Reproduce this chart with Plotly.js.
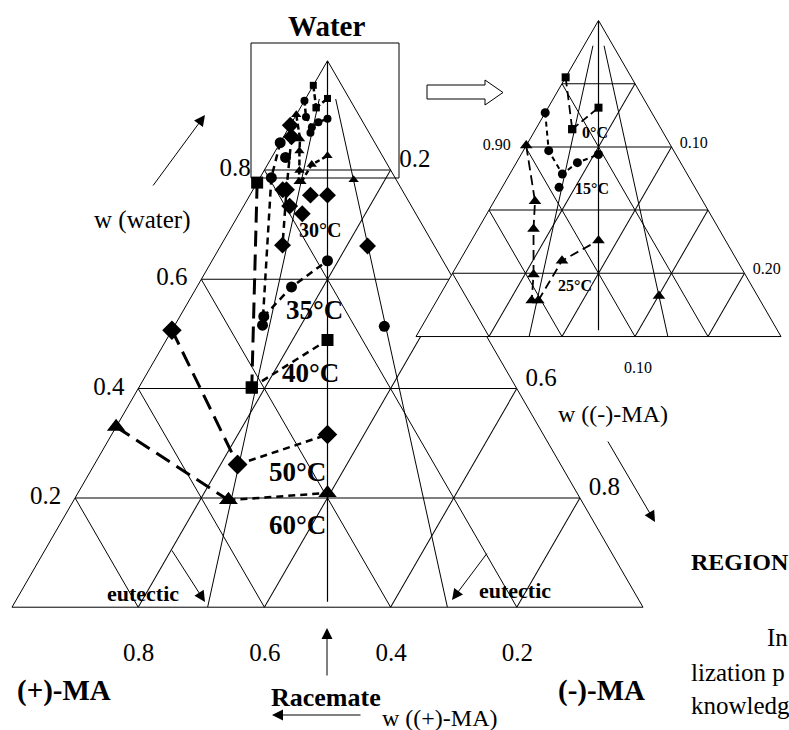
<!DOCTYPE html>
<html><head><meta charset="utf-8">
<script src="https://cdn.plot.ly/plotly-3.0.1.min.js"></script>
<style>html,body{margin:0;padding:0;background:#fff}#chart{width:789px;height:730px}</style>
</head><body><div id="chart"></div>
<script>
// ---------------- DATA: mass fractions (water, (+)-MA, (-)-MA) ----------------
// 0 °C (squares)
const t0PureWater = [0.955, 0.914];
const t0PurePlus  = [0.045, 0.061];
const t0PureMinus = [0.000, 0.025];
const t0RacWater  = [0.914, 0.931];
const t0RacPlus   = [0.061, 0.0345];
const t0RacMinus  = [0.025, 0.0345];
// 15 °C (circles)
const t15Water = [0.927, 0.897, 0.8785, 0.8875, 0.894];
const t15Plus  = [0.073, 0.0856, 0.0855, 0.0707, 0.053];
const t15Minus = [0.000, 0.0174, 0.036, 0.0418, 0.053];
const t15ExtraWater = [0.868];
const t15ExtraPlus  = [0.093];
const t15ExtraMinus = [0.039];
// 25 °C (triangles)
const t25PureWater = [0.901, 0.857, 0.835, 0.799, 0.7785];
const t25PurePlus  = [0.099, 0.115, 0.127, 0.145, 0.1565];
const t25PureMinus = [0.000, 0.028, 0.038, 0.056, 0.065];
const t25RacWater  = [0.7785, 0.810, 0.826];
const t25RacPlus   = [0.152, 0.120, 0.087];
const t25RacMinus  = [0.0695, 0.070, 0.087];
const t25ExtraWater = [0.782];
const t25ExtraPlus  = [0.0676];
const t25ExtraMinus = [0.1504];
// 30 °C (diamonds)
const t30Water = [0.882, 0.861, 0.764, 0.6625];
const t30Plus  = [0.118, 0.1265, 0.183, 0.240];
const t30Minus = [0.000, 0.0125, 0.053, 0.0975];
const t30ExtraWater = [0.764, 0.734, 0.720, 0.754, 0.754, 0.661];
const t30ExtraPlus  = [0.189, 0.193, 0.180, 0.150, 0.123, 0.106];
const t30ExtraMinus = [0.047, 0.073, 0.100, 0.096, 0.123, 0.233];
// 35 °C (circles)
const t35Water = [0.850, 0.786, 0.516, 0.532, 0.586, 0.634];
const t35Plus  = [0.150, 0.196, 0.345, 0.335, 0.264, 0.183];
const t35Minus = [0.000, 0.018, 0.139, 0.133, 0.150, 0.183];
const t35ExtraWater = [0.823, 0.514];
const t35ExtraPlus  = [0.155, 0.153];
const t35ExtraMinus = [0.022, 0.333];
// 40 °C (squares)
const t40PureWater = [0.777, 0.402];
const t40PurePlus  = [0.223, 0.419];
const t40PureMinus = [0.000, 0.179];
const t40RacWater  = [0.402, 0.489];
const t40RacPlus   = [0.419, 0.2555];
const t40RacMinus  = [0.179, 0.2555];
// 50 °C (diamonds)
const t50PureWater = [0.507, 0.261];
const t50PurePlus  = [0.493, 0.512];
const t50PureMinus = [0.000, 0.227];
const t50RacWater  = [0.261, 0.316];
const t50RacPlus   = [0.512, 0.342];
const t50RacMinus  = [0.227, 0.342];
// 60 °C (triangles)
const t60PureWater = [0.330, 0.196];
const t60PurePlus  = [0.670, 0.559];
const t60PureMinus = [0.000, 0.245];
const t60RacWater  = [0.196, 0.209];
const t60RacPlus   = [0.559, 0.3955];
const t60RacMinus  = [0.245, 0.3955];
// Guide lines: eutectic compositions and racemate
const eutMainWater  = [0.93, 0.0];
const eutMainPlusL  = [0.048, 0.69];
const eutMainMinusL = [0.022, 0.31];
const eutInsetWater  = [0.98, 0.75];
const eutInsetPlusL  = [0.0138, 0.1725];
const eutInsetMinusL = [0.0062, 0.0775];
const racMainWater = [1.0, 0.01];
const racMainHalf  = [0.0, 0.495];
const racInsetWater = [1.0, 0.755];
const racInsetHalf  = [0.0, 0.1225];
// Tick labels
const mainTicks = [0.2, 0.4, 0.6, 0.8];
const mainTickText = ['0.2', '0.4', '0.6', '0.8'];
const mainRightText = ['0.2', '', '0.6', '0.8'];
const insetATicks = [0.8, 0.85, 0.9, 0.95];
const insetATickText = ['', '', '0.90', ''];
const insetBCTicks = [0.05, 0.10, 0.15, 0.20];
const insetBText = ['', '0.10', '', ''];
const insetCText = ['', '0.10', '', '0.20'];

// ---------------- helpers ----------------
const W = 789, H = 730;
const px = x => x / W, py = y => 1 - y / H;
const SERIF = 'Liberation Serif, Times New Roman, serif';
const NB = '\u00a0';
// trailing no-break spaces centre the angled bottom labels under their ticks
const padB = (arr, n) => arr.map(t => t ? t + NB.repeat(n) : t);
const traces = [];
function add(sub, a, b, c, o) {
  traces.push({type: 'scatterternary', subplot: sub, a: a, b: b, c: c,
    mode: o.mode || 'lines+markers', cliponaxis: false, showlegend: false, hoverinfo: 'skip',
    line: {color: '#000', width: o.width || 2, dash: o.dash || 'solid'},
    marker: {color: '#000', symbol: o.symbol || 'circle', size: o.size || 8}});
}
// ---------- main ternary ----------
const M = 'ternary';
add(M, eutMainWater, eutMainPlusL, eutMainMinusL, {mode: 'lines', width: 1});
add(M, eutMainWater, eutMainMinusL, eutMainPlusL, {mode: 'lines', width: 1});
add(M, racMainWater, racMainHalf, racMainHalf, {mode: 'lines', width: 1.2});
const LD = '16px,8px', SD = '7px,5px';
add(M, t0PureWater, t0PurePlus, t0PureMinus, {symbol: 'square', size: 7, dash: '6px,3px', width: 2.5});
add(M, t0RacWater, t0RacPlus, t0RacMinus, {symbol: 'square', size: 7, dash: '5px,3px', width: 2.5});
add(M, t15Water, t15Plus, t15Minus, {symbol: 'circle', size: 8, dash: '5px,3px', width: 2.5});
add(M, t15ExtraWater, t15ExtraPlus, t15ExtraMinus, {mode: 'markers', symbol: 'circle', size: 8});
add(M, t25PureWater, t25PurePlus, t25PureMinus, {symbol: 'triangle-up', size: 9, dash: '6px,3px', width: 2.5});
add(M, t25RacWater, t25RacPlus, t25RacMinus, {symbol: 'triangle-up', size: 9, dash: '5px,3px', width: 2.5});
add(M, t25ExtraWater, t25ExtraPlus, t25ExtraMinus, {mode: 'markers', symbol: 'triangle-up', size: 9});
add(M, t30Water, t30Plus, t30Minus, {symbol: 'diamond', size: 13, dash: SD, width: 2.5});
add(M, t30ExtraWater, t30ExtraPlus, t30ExtraMinus, {mode: 'markers', symbol: 'diamond', size: 13});
add(M, t35Water, t35Plus, t35Minus, {symbol: 'circle', size: 11, dash: SD, width: 2.5});
add(M, t35ExtraWater, t35ExtraPlus, t35ExtraMinus, {mode: 'markers', symbol: 'circle', size: 11});
add(M, t40PureWater, t40PurePlus, t40PureMinus, {symbol: 'square', size: 12, dash: LD, width: 3});
add(M, t40RacWater, t40RacPlus, t40RacMinus, {symbol: 'square', size: 12, dash: SD, width: 2.5});
add(M, t50PureWater, t50PurePlus, t50PureMinus, {symbol: 'diamond', size: 15, dash: LD, width: 3});
add(M, t50RacWater, t50RacPlus, t50RacMinus, {symbol: 'diamond', size: 15, dash: SD, width: 2.5});
add(M, t60PureWater, t60PurePlus, t60PureMinus, {symbol: 'triangle-up', size: 16, dash: LD, width: 3});
add(M, t60RacWater, t60RacPlus, t60RacMinus, {symbol: 'triangle-up', size: 16, dash: SD, width: 2.5});
// ---------- inset ternary ----------
const I = 'ternary2';
add(I, eutInsetWater, eutInsetPlusL, eutInsetMinusL, {mode: 'lines', width: 1});
add(I, eutInsetWater, eutInsetMinusL, eutInsetPlusL, {mode: 'lines', width: 1});
add(I, racInsetWater, racInsetHalf, racInsetHalf, {mode: 'lines', width: 1.2});
add(I, t0PureWater, t0PurePlus, t0PureMinus, {symbol: 'square', size: 8, dash: '9px,5px', width: 1.8});
add(I, t0RacWater, t0RacPlus, t0RacMinus, {symbol: 'square', size: 8, dash: '8px,4px', width: 1.8});
add(I, t15Water, t15Plus, t15Minus, {symbol: 'circle', size: 9, dash: '5px,4px', width: 2});
add(I, t15ExtraWater, t15ExtraPlus, t15ExtraMinus, {mode: 'markers', symbol: 'circle', size: 9});
add(I, t25PureWater, t25PurePlus, t25PureMinus, {symbol: 'triangle-up', size: 11, dash: '10px,5px', width: 1.8});
add(I, t25RacWater, t25RacPlus, t25RacMinus, {symbol: 'triangle-up', size: 11, dash: '9px,5px', width: 1.8});
add(I, t25ExtraWater, t25ExtraPlus, t25ExtraMinus, {mode: 'markers', symbol: 'triangle-up', size: 11});

function ax(extra) {
  return Object.assign({showline: true, linecolor: '#000', linewidth: 1,
    showgrid: true, gridcolor: '#000', gridwidth: 1, ticks: 'outside', tickcolor: 'rgba(0,0,0,0)',
    tickmode: 'array', tickfont: {family: SERIF, size: 25, color: '#000'}, title: {text: ''}}, extra);
}
const small = {family: SERIF, size: 16, color: '#000'};

const layout = {
  width: W, height: H, margin: {l: 0, r: 0, t: 0, b: 0},
  paper_bgcolor: '#fff', showlegend: false,
  font: {family: SERIF, color: '#000'},
  ternary: {
    domain: {x: [12 / W, 643 / W], y: [0.16, 0.925]}, sum: 1, bgcolor: 'rgba(0,0,0,0)',
    aaxis: ax({tickvals: mainTicks, ticktext: mainTickText, ticklen: 10}),
    baxis: ax({tickvals: mainTicks, ticktext: padB(mainTickText, 4), ticklen: 26}),
    caxis: ax({tickvals: mainTicks, ticktext: mainRightText, ticklen: 10})
  },
  ternary2: {
    domain: {x: [416 / W, 781 / W], y: [0.535, 0.976]}, sum: 1, bgcolor: '#fff',
    aaxis: ax({min: 0.75, tickvals: insetATicks, ticktext: insetATickText, tickfont: small, ticklen: 12}),
    baxis: ax({min: 0, tickvals: insetBCTicks, ticktext: padB(insetBText, 3), tickfont: small, ticklen: 18}),
    caxis: ax({min: 0, tickvals: insetBCTicks, ticktext: insetCText.map(t => t ? NB + t : t), tickfont: small, ticklen: 3})
  },
  shapes: [
    {type: 'rect', xref: 'paper', yref: 'paper', x0: px(251), x1: px(399), y0: py(178), y1: py(43),
     line: {color: '#000', width: 1}},
    {type: 'path', xref: 'paper', yref: 'paper', line: {color: '#000', width: 1},
     path: 'M' + px(427) + ',' + py(85) + 'L' + px(485) + ',' + py(85) + 'L' + px(485) + ',' + py(80) +
           'L' + px(503) + ',' + py(92.5) + 'L' + px(485) + ',' + py(105) + 'L' + px(485) + ',' + py(99) +
           'L' + px(427) + ',' + py(99) + 'Z'}
  ],
  annotations: []
};
function txt(t, x, y, size, bold, anchor) {
  layout.annotations.push({text: bold ? '<b>' + t + '</b>' : t, x: px(x), y: py(y), xref: 'paper', yref: 'paper',
    xanchor: anchor || 'center', yanchor: 'middle', showarrow: false,
    font: {family: SERIF, size: size, color: '#000'}});
}
function arrow(hx, hy, tx, ty) {
  layout.annotations.push({text: '', x: px(hx), y: py(hy), xref: 'paper', yref: 'paper',
    ax: tx - hx, ay: ty - hy, showarrow: true, arrowhead: 2, arrowsize: 2.2, arrowwidth: 1,
    arrowcolor: '#000', standoff: 0, startstandoff: 0});
}
txt('Water', 326, 26, 29, true);
txt('w (water)', 142, 220, 25);
txt('w ((-)-MA)', 613, 414, 24);
txt('w ((+)-MA)', 440, 718, 24);
txt('Racemate', 326, 697, 26, true);
txt('(+)-MA', 64, 690, 29, true);
txt('(-)-MA', 601, 690, 29, true);
txt('eutectic', 143, 593, 22, true);
txt('eutectic', 515, 590, 22, true);
txt('30°C', 320, 230, 20, true);
txt('35°C', 314, 310, 27, true);
txt('40°C', 310, 373, 27, true);
txt('50°C', 297, 472, 27, true);
txt('60°C', 297, 525, 27, true);
txt('0°C', 595, 132, 16, true);
txt('15°C', 592, 188, 16, true);
txt('25°C', 575, 285, 16, true);
txt('REGION', 689, 562, 24, true, 'left');
txt('In', 765, 637, 25, false, 'left');
txt('lization p', 689, 672, 25, false, 'left');
txt('knowledg', 689, 705, 25, false, 'left');
arrow(205, 115, 152, 187);
arrow(655, 522, 607, 440);
arrow(272, 715, 362, 715);
arrow(327, 628, 327, 677);
arrow(205, 602, 171, 549);
arrow(452, 600, 488, 552);

Plotly.newPlot('chart', traces, layout, {staticPlot: true, displayModeBar: false});
</script></body></html>
